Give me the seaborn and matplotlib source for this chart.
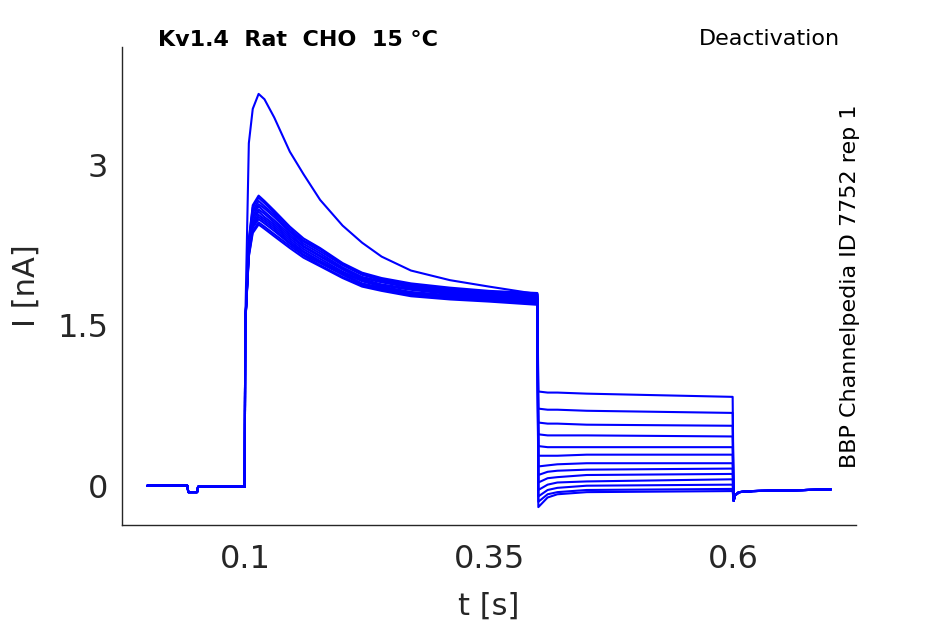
import numpy as np
import pandas as pd
import matplotlib
matplotlib.use("Agg")
import matplotlib.pyplot as plt
import seaborn as sns

# ==========================================
# Datos (corriente en nA, tiempo en s)
# ==========================================
# linea base antes del pulso (igual para todas las trazas)
t_base = [0.0, 0.041, 0.042, 0.051, 0.052, 0.0998]
I_base = [0.0, 0.0, -0.06, -0.06, -0.01, -0.01]

# pulso de activacion 0.1 - 0.4 s
t_pulse = [0.1003, 0.104, 0.108, 0.114, 0.12, 0.13, 0.146, 0.16, 0.177,
           0.2, 0.22, 0.24, 0.27, 0.31, 0.35, 0.3995]
I_pulse = [
    [1.5, 3.20, 3.52, 3.66, 3.61, 3.44, 3.12, 2.91, 2.67, 2.43, 2.27, 2.14, 2.01, 1.92, 1.86, 1.79],
    [1.5, 2.30, 2.62, 2.71, 2.66, 2.57, 2.42, 2.31, 2.22, 2.08, 1.99, 1.94, 1.89, 1.85, 1.82, 1.80],
    [1.5, 2.29, 2.60, 2.69, 2.64, 2.55, 2.40, 2.29, 2.21, 2.07, 1.98, 1.93, 1.88, 1.84, 1.81, 1.79],
    [1.5, 2.27, 2.57, 2.66, 2.61, 2.53, 2.38, 2.28, 2.19, 2.06, 1.97, 1.92, 1.87, 1.83, 1.80, 1.78],
    [1.5, 2.26, 2.55, 2.63, 2.59, 2.51, 2.37, 2.26, 2.17, 2.04, 1.95, 1.91, 1.86, 1.82, 1.79, 1.77],
    [1.5, 2.24, 2.52, 2.61, 2.56, 2.48, 2.35, 2.24, 2.15, 2.03, 1.94, 1.90, 1.85, 1.81, 1.78, 1.76],
    [1.5, 2.22, 2.50, 2.58, 2.54, 2.46, 2.33, 2.23, 2.14, 2.02, 1.93, 1.88, 1.84, 1.80, 1.77, 1.75],
    [1.5, 2.21, 2.47, 2.56, 2.51, 2.44, 2.31, 2.21, 2.12, 2.00, 1.92, 1.87, 1.83, 1.79, 1.76, 1.74],
    [1.5, 2.19, 2.45, 2.53, 2.49, 2.42, 2.29, 2.19, 2.10, 1.99, 1.91, 1.86, 1.81, 1.78, 1.75, 1.73],
    [1.5, 2.18, 2.43, 2.51, 2.47, 2.40, 2.27, 2.18, 2.09, 1.98, 1.89, 1.85, 1.80, 1.77, 1.74, 1.72],
    [1.5, 2.17, 2.41, 2.49, 2.45, 2.38, 2.26, 2.16, 2.08, 1.97, 1.88, 1.84, 1.79, 1.76, 1.73, 1.71],
    [1.5, 2.15, 2.38, 2.46, 2.42, 2.35, 2.24, 2.15, 2.06, 1.95, 1.87, 1.83, 1.78, 1.75, 1.73, 1.70],
    [1.5, 2.14, 2.36, 2.44, 2.40, 2.33, 2.22, 2.13, 2.05, 1.94, 1.86, 1.82, 1.77, 1.74, 1.72, 1.69],
]

# escalones de desactivacion 0.4 - 0.6 s
t_step = [0.4005, 0.41, 0.42, 0.45, 0.5995]
I_step_start = [0.88, 0.72, 0.59, 0.48, 0.37, 0.28, 0.18, 0.10, 0.03, -0.04, -0.10, -0.15, -0.20]
I_step_410 = [0.87, 0.71, 0.58, 0.47, 0.36, 0.28, 0.19, 0.13, 0.07, 0.01, -0.04, -0.08, -0.11]
I_step_420 = [0.87, 0.71, 0.58, 0.47, 0.36, 0.28, 0.20, 0.14, 0.08, 0.03, -0.02, -0.06, -0.08]
I_step_450 = [0.86, 0.70, 0.57, 0.47, 0.36, 0.29, 0.21, 0.15, 0.10, 0.04, 0.00, -0.04, -0.06]
I_step_end = [0.83, 0.68, 0.56, 0.46, 0.36, 0.29, 0.21, 0.16, 0.11, 0.06, 0.01, -0.03, -0.05]

# cola tras 0.6 s (igual para todas)
t_tail = [0.6005, 0.602, 0.606, 0.62, 0.65, 0.7]
I_tail = [-0.14, -0.09, -0.06, -0.05, -0.045, -0.035]

# ==========================================
# Tabla larga para seaborn
# ==========================================
filas = []
for k in range(len(I_pulse)):
    tt = t_base + t_pulse + t_step + t_tail
    ii = (I_base + I_pulse[k]
          + [I_step_start[k], I_step_410[k], I_step_420[k], I_step_450[k], I_step_end[k]]
          + I_tail)
    for t, i in zip(tt, ii):
        filas.append({"t": t, "I": i, "traza": k})
df = pd.DataFrame(filas)

# ==========================================
# Figura
# ==========================================
sns.set_style("white")
plt.rcParams['font.family'] = ['DejaVu Sans']

fig = plt.figure(figsize=(9.45, 6.24), dpi=100)
ax = fig.add_axes([0.129, 0.159, 0.777, 0.766])

sns.lineplot(data=df, x="t", y="I", units="traza", estimator=None,
             color="#0000ff", lw=1.5, ax=ax, sort=False)

ax.set_xlim(-0.026, 0.726)
ax.set_ylim(-0.365, 4.1)
ax.set_xticks([0.1, 0.35, 0.6])
ax.set_xticklabels(["0.1", "0.35", "0.6"])
ax.set_yticks([0, 1.5, 3])
ax.set_yticklabels(["0", "1.5", "3"])

col = "#262626"
for lado in ["top", "right"]:
    ax.spines[lado].set_visible(False)
for lado in ["left", "bottom"]:
    ax.spines[lado].set_color(col)
    ax.spines[lado].set_linewidth(1.0)

ax.tick_params(axis="both", direction="in", length=6, width=1, colors=col,
               labelsize=23, labelcolor=col)
ax.tick_params(axis="x", pad=14)
ax.tick_params(axis="y", pad=10)

ax.set_xlabel("t [s]", fontsize=22, color=col, labelpad=12)
ax.set_ylabel("I [nA]", fontsize=22, color=col, labelpad=12)

fig.text(158 / 945, 1 - 40 / 624, "Kv1.4  Rat  CHO  15 °C", fontsize=16,
         fontweight="bold", ha="left", va="center", color="black")
fig.text(840 / 945, 1 - 39 / 624, "Deactivation", fontsize=16,
         ha="right", va="center", color="black")
fig.text(850 / 945, 1 - 286 / 624, "BBP Channelpedia ID 7752 rep 1", fontsize=16,
         rotation=90, ha="center", va="center", color="black")

plt.savefig("out.png", dpi=100)
plt.close()
